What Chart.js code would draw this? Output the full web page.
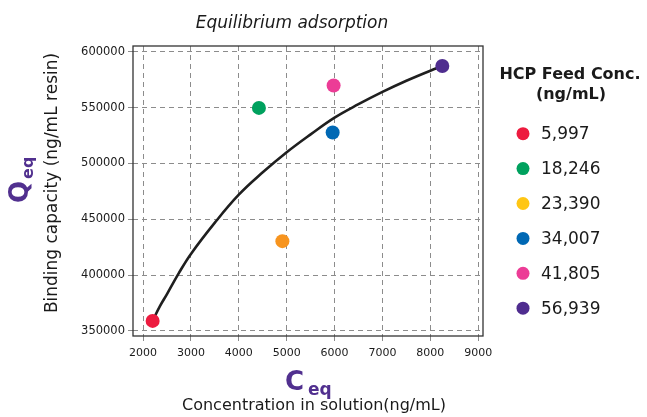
<!DOCTYPE html>
<html>
<head>
<meta charset="utf-8">
<script src="https://cdn.jsdelivr.net/npm/chart.js@4.4.1/dist/chart.umd.min.js"></script>
<style>
html,body{margin:0;padding:0;background:#ffffff;}
#wrap{width:647px;height:417px;position:relative;}
</style>
</head>
<body>
<div id="wrap"><canvas id="chart" width="647" height="417"></canvas></div>
<script>
// ---- data ----
const chartTitle = 'Equilibrium adsorption';
const legendTitle = ['HCP Feed Conc.', '(ng/mL)'];
const seriesLabels = ['5,997', '18,246', '23,390', '34,007', '41,805', '56,939'];
const ceqValues = [2200, 4420, 4910, 5960, 5980, 8250];
const qeqValues = [359000, 549700, 430400, 527700, 569700, 587200];
const pointColors = ['#ED1B3F', '#00A15E', '#F7941E', '#0068B4', '#EC3C96', '#4F2D8F'];
const legendColors = ['#ED1B3F', '#00A15E', '#FFC614', '#0068B4', '#EC3C96', '#4F2D8F'];
const fitCeq = [2200, 2350, 2500, 2750, 3000, 3500, 4000, 4500, 5000, 5500, 6000, 6500, 7000, 7500, 8000, 8250];
const fitQeq = [359000, 372000, 383000, 402000, 419000, 447000, 472000, 492000, 510000, 526000, 541000, 553000, 564000, 574000, 583000, 587000];
const xTicks = [2000, 3000, 4000, 5000, 6000, 7000, 8000, 9000];
const yTicks = [350000, 400000, 450000, 500000, 550000, 600000];
const xTitleMain = 'C', xTitleSub = 'eq', xTitleText = 'Concentration in solution(ng/mL)';
const yTitleMain = 'Q', yTitleSub = 'eq', yTitleText = 'Binding capacity (ng/mL resin)';

const FONT = '"DejaVu Sans", Verdana, sans-serif';
const PURPLE = '#51308F';
const TEXT = '#1a1a1a';

const datasets = seriesLabels.map((lab, i) => ({
  type: 'scatter',
  label: lab,
  data: [{x: ceqValues[i], y: qeqValues[i]}],
  backgroundColor: pointColors[i],
  borderWidth: 0,
  pointRadius: 7,
  pointHoverRadius: 7,
  order: 0
}));
datasets.push({
  type: 'line',
  label: 'fit',
  data: fitCeq.map((c, i) => ({x: c, y: fitQeq[i]})),
  borderColor: '#1f1f1f',
  borderWidth: 2.6,
  pointRadius: 0,
  fill: false,
  tension: 0.4,
  cubicInterpolationMode: 'default',
  order: 10
});

const decor = {
  id: 'decor',
  beforeDatasetsDraw(chart) {
    const {ctx, chartArea: a} = chart;
    ctx.save();
    ctx.setLineDash([]);
    ctx.strokeStyle = '#333333';
    ctx.lineWidth = 1.3;
    ctx.strokeRect(a.left, a.top, a.right - a.left, a.bottom - a.top);
    ctx.restore();
  },
  afterDraw(chart) {
    const ctx = chart.ctx;
    ctx.save();
    ctx.setLineDash([]);
    // chart title
    ctx.fillStyle = TEXT;
    ctx.textAlign = 'center';
    ctx.textBaseline = 'alphabetic';
    ctx.font = 'italic 17px ' + FONT;
    ctx.fillText(chartTitle, 292, 28);
    // x axis titles
    ctx.font = '16px ' + FONT;
    ctx.fillText(xTitleText, 314, 410);
    ctx.textAlign = 'left';
    ctx.fillStyle = PURPLE;
    ctx.font = 'bold 26px ' + FONT;
    ctx.fillText(xTitleMain, 285, 390);
    const cw = ctx.measureText(xTitleMain).width;
    ctx.font = 'bold 17px ' + FONT;
    ctx.fillText(xTitleSub, 285 + cw + 4, 395);
    // y axis titles
    ctx.save();
    ctx.translate(57, 183);
    ctx.rotate(-Math.PI / 2);
    ctx.fillStyle = TEXT;
    ctx.textAlign = 'center';
    ctx.font = '17px ' + FONT;
    ctx.fillText(yTitleText, 0, 0);
    ctx.restore();
    ctx.save();
    ctx.translate(28, 203);
    ctx.rotate(-Math.PI / 2);
    ctx.fillStyle = PURPLE;
    ctx.textAlign = 'left';
    ctx.font = 'bold 26px ' + FONT;
    ctx.fillText(yTitleMain, 0, 0);
    const qw = ctx.measureText(yTitleMain).width;
    ctx.font = 'bold 16px ' + FONT;
    ctx.fillText(yTitleSub, qw + 2, 5);
    ctx.restore();
    // legend
    ctx.fillStyle = TEXT;
    ctx.textAlign = 'center';
    ctx.font = 'bold 16px ' + FONT;
    ctx.fillText(legendTitle[0], 570, 79);
    ctx.fillText(legendTitle[1], 571, 99);
    ctx.font = '17px ' + FONT;
    ctx.textAlign = 'left';
    ctx.textBaseline = 'middle';
    seriesLabels.forEach((lab, i) => {
      const cy = 133.7 + 34.9 * i;
      ctx.beginPath();
      ctx.arc(523, cy, 6.5, 0, Math.PI * 2);
      ctx.fillStyle = legendColors[i];
      ctx.fill();
      ctx.fillStyle = TEXT;
      ctx.fillText(lab, 541, cy + 1);
    });
    ctx.restore();
  }
};

const gridOpts = {color: '#8c8c8c', lineWidth: 1, tickLength: 5, tickColor: '#8c8c8c'};

new Chart(document.getElementById('chart'), {
  type: 'scatter',
  data: {datasets},
  plugins: [decor],
  options: {
    responsive: false,
    animation: false,
    devicePixelRatio: 1,
    layout: {padding: {left: 0, right: 164, top: 46, bottom: 0}},
    plugins: {legend: {display: false}, title: {display: false}, tooltip: {enabled: false}},
    scales: {
      x: {
        type: 'linear',
        min: 1790, max: 9100,
        afterBuildTicks: s => { s.ticks = xTicks.map(v => ({value: v})); },
        afterFit: s => { s.height = 81; },
        ticks: {font: {family: FONT, size: 11}, color: TEXT, padding: 6, callback: v => String(v), maxRotation: 0},
        grid: gridOpts,
        border: {display: false, dash: [5, 4]},
        title: {display: false}
      },
      y: {
        type: 'linear',
        min: 345500, max: 605100,
        afterBuildTicks: s => { s.ticks = yTicks.map(v => ({value: v})); },
        afterFit: s => { s.width = 133; },
        ticks: {font: {family: FONT, size: 11.5}, color: TEXT, padding: 3, callback: v => String(v)},
        grid: gridOpts,
        border: {display: false, dash: [5, 4]},
        title: {display: false}
      }
    }
  }
});
</script>
</body>
</html>
